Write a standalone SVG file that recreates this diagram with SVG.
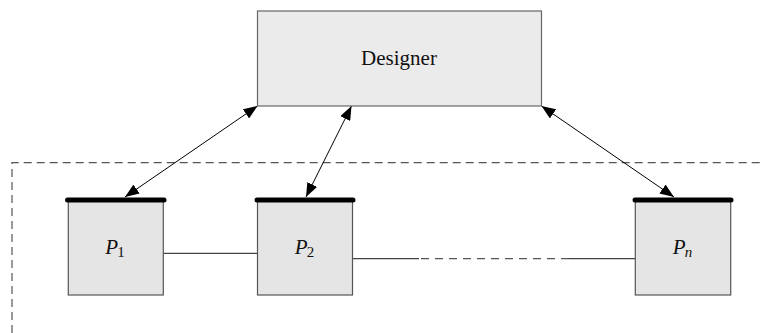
<svg xmlns="http://www.w3.org/2000/svg" width="761" height="333" viewBox="0 0 761 333">
<defs>
<style>
.box{fill:#e5e5e5;stroke:#555;stroke-width:1.2}
.des{fill:#ebebeb;stroke:#666;stroke-width:1.2}
.bar{stroke:#000;stroke-width:5;stroke-linecap:round}
.conn{stroke:#000;stroke-width:1;fill:none}
.link{stroke:#444;stroke-width:1.2;fill:none}
.dash{stroke:#555;stroke-width:1.2;stroke-dasharray:8,5;fill:none}
.t{font-family:"Liberation Serif",serif;font-size:21px;fill:#111}
.i{font-style:italic}
</style>
<marker id="ah" viewBox="0 0 14 11" refX="14" refY="5.5" markerWidth="14" markerHeight="11" markerUnits="userSpaceOnUse" orient="auto-start-reverse">
<path d="M0,0 L14,5.5 L0,11 z" fill="#000"/>
</marker>
</defs>
<g id="boundary">
<path class="dash" d="M12,333 L12,162.7 L761,162.7"/>
</g>
<g id="connectors">
<line class="conn" x1="257.5" y1="106" x2="125" y2="197" marker-start="url(#ah)" marker-end="url(#ah)"/>
<line class="conn" x1="351.5" y1="106" x2="306" y2="197" marker-start="url(#ah)" marker-end="url(#ah)"/>
<line class="conn" x1="541.5" y1="106" x2="674" y2="197" marker-start="url(#ah)" marker-end="url(#ah)"/>
<line class="link" x1="163.3" y1="253.3" x2="257.5" y2="253.3"/>
<line class="link" x1="352.5" y1="258.7" x2="419" y2="258.7"/>
<line class="dash" x1="421" y1="258.7" x2="569" y2="258.7" style="stroke-dasharray:8,6"/>
<line class="link" x1="569" y1="258.7" x2="635.3" y2="258.7"/>
</g>
<g id="designer">
<rect class="des" x="257.5" y="11" width="284" height="95"/>
<text class="t" x="399" y="64.5" text-anchor="middle">Designer</text>
</g>
<g id="p1">
<rect class="box" x="68.3" y="200" width="95" height="95"/>
<line class="bar" x1="67.5" y1="200" x2="164" y2="200"/>
<text class="t" x="115" y="253.5" text-anchor="middle"><tspan class="i">P</tspan><tspan font-size="15" dx="-1" dy="3">1</tspan></text>
</g>
<g id="p2">
<rect class="box" x="257.5" y="200" width="95" height="95"/>
<line class="bar" x1="257" y1="200" x2="353" y2="200"/>
<text class="t" x="304.5" y="253.5" text-anchor="middle"><tspan class="i">P</tspan><tspan font-size="15" dx="-1" dy="3">2</tspan></text>
</g>
<g id="pn">
<rect class="box" x="635.3" y="200" width="95.4" height="95"/>
<line class="bar" x1="635" y1="200" x2="731" y2="200"/>
<text class="t" x="682.5" y="253.5" text-anchor="middle"><tspan class="i">P</tspan><tspan class="i" font-size="15" dx="-1" dy="3">n</tspan></text>
</g>
</svg>
